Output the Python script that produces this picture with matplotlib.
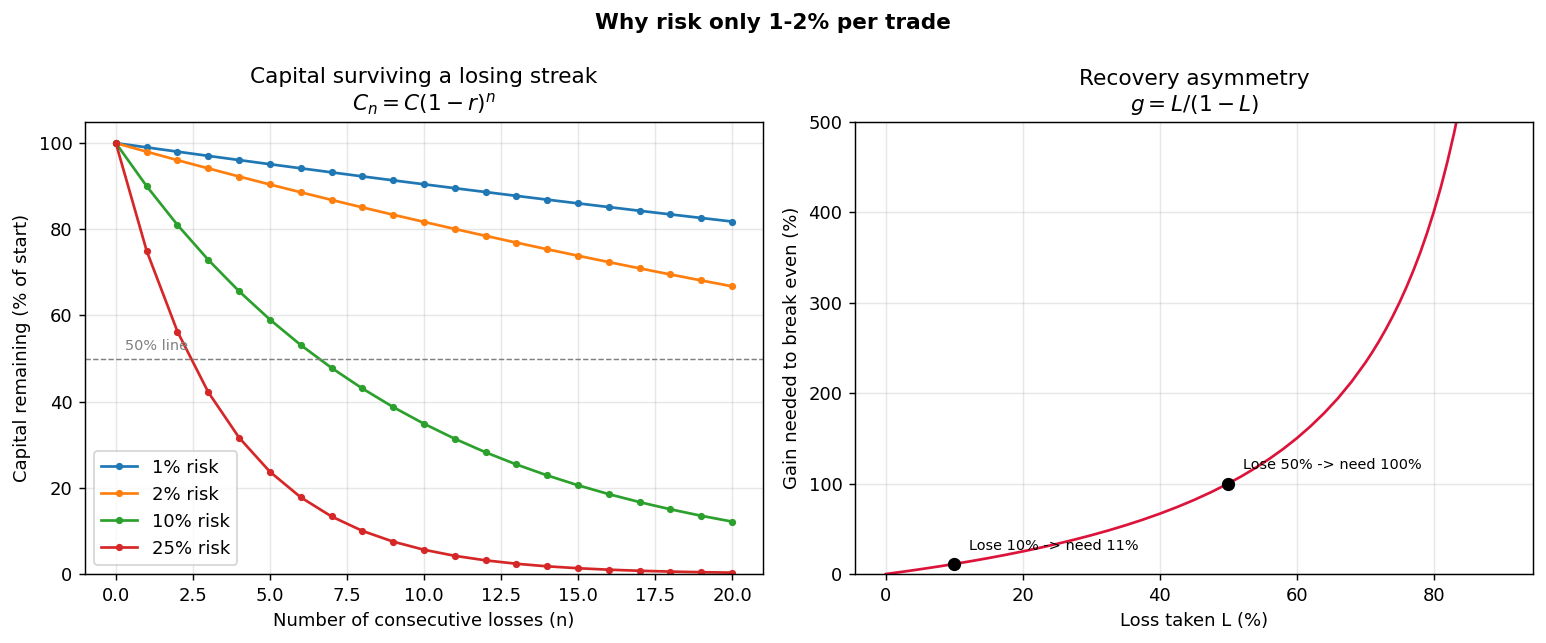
import matplotlib.pyplot as plt

# losing streak: capital remaining (% of start) after n losses
n_losses = list(range(21))
risk_1 = [100, 99.0, 98.01, 97.03, 96.06, 95.1, 94.15, 93.21, 92.27, 91.35, 90.44,
          89.53, 88.64, 87.75, 86.87, 86.01, 85.15, 84.29, 83.45, 82.62, 81.79]
risk_2 = [100, 98.0, 96.04, 94.12, 92.24, 90.39, 88.58, 86.81, 85.08, 83.37, 81.71,
          80.07, 78.47, 76.9, 75.36, 73.86, 72.38, 70.93, 69.51, 68.12, 66.76]
risk_10 = [100, 90.0, 81.0, 72.9, 65.61, 59.05, 53.14, 47.83, 43.05, 38.74, 34.87,
           31.38, 28.24, 25.42, 22.88, 20.59, 18.53, 16.68, 15.01, 13.51, 12.16]
risk_25 = [100, 75.0, 56.25, 42.19, 31.64, 23.73, 17.8, 13.35, 10.01, 7.51, 5.63,
           4.22, 3.17, 2.38, 1.78, 1.34, 1.0, 0.75, 0.56, 0.42, 0.32]
series = [("1% risk", risk_1), ("2% risk", risk_2), ("10% risk", risk_10), ("25% risk", risk_25)]

# recovery curve: loss taken vs gain needed (%)
loss_pct = [0, 2.5, 5, 7.5, 10, 12.5, 15, 17.5, 20, 22.5, 25, 27.5, 30, 32.5, 35, 37.5, 40,
            42.5, 45, 47.5, 50, 52, 54, 56, 58, 60, 62, 64, 66, 68, 70, 71, 72, 73, 74,
            75, 76, 77, 78, 79, 80, 81, 82, 83, 84, 86, 88, 90]
gain_pct = [0, 2.56, 5.26, 8.11, 11.11, 14.29, 17.65, 21.21, 25.0, 29.03, 33.33, 37.93,
            42.86, 48.15, 53.85, 60.0, 66.67, 73.91, 81.82, 90.48, 100.0, 108.3, 117.4,
            127.3, 138.1, 150.0, 163.2, 177.8, 194.1, 212.5, 233.3, 244.8, 257.1, 270.4,
            284.6, 300.0, 316.7, 334.8, 354.5, 376.2, 400.0, 426.3, 455.6, 488.2, 525.0,
            614.3, 733.3, 900.0]
marked_loss = [10, 50]
marked_gain = [11.11, 100.0]
marked_text = ["Lose 10% -> need 11%", "Lose 50% -> need 100%"]

fig, (ax1, ax2) = plt.subplots(1, 2, figsize=(1546 / 130, 643 / 130), dpi=130)
fig.suptitle("Why risk only 1-2% per trade", fontsize=12, fontweight="bold", y=0.98)

for label, vals in series:
    ax1.plot(n_losses, vals, marker="o", markersize=3, label=label)
ax1.axhline(50, color="gray", linestyle="--", linewidth=0.8)
ax1.text(0.3, 52, "50% line", fontsize=8, color="gray")
ax1.set_ylim(0, 105)
ax1.set_title("Capital surviving a losing streak\n$C_n = C(1-r)^n$")
ax1.set_xlabel("Number of consecutive losses (n)")
ax1.set_ylabel("Capital remaining (% of start)")
ax1.grid(alpha=0.3)
ax1.legend(loc="lower left")

ax2.plot(loss_pct, gain_pct, color="crimson")
ax2.scatter(marked_loss, marked_gain, color="black", s=40, zorder=5)
for x, y, t in zip(marked_loss, marked_gain, marked_text):
    ax2.annotate(t, (x, y), xytext=(8, 8), textcoords="offset points", fontsize=8)
ax2.set_ylim(0, 500)
ax2.set_title("Recovery asymmetry\n$g = L/(1-L)$")
ax2.set_xlabel("Loss taken L (%)")
ax2.set_ylabel("Gain needed to break even (%)")
ax2.grid(alpha=0.3)

plt.subplots_adjust(left=0.055, right=0.9916, top=0.811, bottom=0.1073, wspace=0.136)
plt.savefig("out.png", dpi=130)
